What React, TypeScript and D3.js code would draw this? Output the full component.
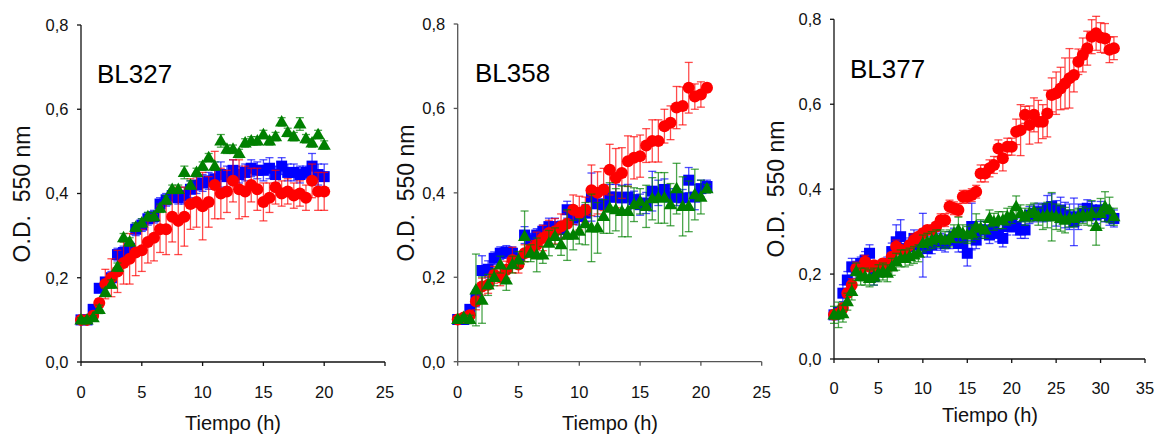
import React from "react";
import * as d3 from "d3";

// ---------- DATA ----------
const panelTitles = ["BL327", "BL358", "BL377"];
const yTickValues = [0, 0.2, 0.4, 0.6, 0.8];
const xTicksShort = [0, 5, 10, 15, 20, 25];
const xTicksLong = [0, 5, 10, 15, 20, 25, 30, 35];

const p1Times = [0,0.5,1,1.5,2,2.5,3,3.5,4,4.5,5,5.5,6,6.5,7,7.5,8,8.5,9,9.5,10,10.5,11,11.5,12,12.5,13,13.5,14,14.5,15,15.5,16,16.5,17,17.5,18,18.5,19,19.5,20];
const p1Blue = [0.10,0.10,0.125,0.175,0.19,0.20,0.255,0.26,0.27,0.315,0.325,0.34,0.345,0.375,0.385,0.395,0.39,0.395,0.41,0.42,0.425,0.43,0.435,0.445,0.44,0.455,0.445,0.45,0.46,0.455,0.455,0.46,0.445,0.465,0.45,0.45,0.445,0.45,0.465,0.445,0.44];
const p1BlueErr = [0.005,0.005,0.01,0.01,0.01,0.015,0.015,0.015,0.015,0.015,0.015,0.015,0.015,0.015,0.015,0.015,0.015,0.02,0.02,0.02,0.02,0.02,0.02,0.03,0.025,0.025,0.02,0.02,0.02,0.02,0.025,0.025,0.02,0.02,0.02,0.02,0.02,0.015,0.03,0.025,0.03];
const p1Red = [0.10,0.10,0.11,0.14,0.185,0.20,0.215,0.235,0.245,0.26,0.265,0.285,0.295,0.315,0.315,0.345,0.335,0.345,0.375,0.38,0.37,0.38,0.42,0.40,0.405,0.43,0.41,0.405,0.42,0.41,0.38,0.39,0.415,0.40,0.405,0.395,0.40,0.39,0.43,0.405,0.405];
const p1RedErr = [0.005,0.005,0.01,0.01,0.035,0.045,0.05,0.05,0.06,0.055,0.05,0.05,0.055,0.055,0.06,0.06,0.08,0.07,0.06,0.06,0.08,0.06,0.08,0.06,0.05,0.05,0.07,0.06,0.04,0.05,0.045,0.035,0.04,0.03,0.03,0.03,0.03,0.03,0.04,0.045,0.045];
const p1Green = [0.10,0.10,0.105,0.125,0.165,0.185,0.225,0.295,0.285,0.32,0.33,0.345,0.345,0.365,0.385,0.41,0.41,0.45,0.42,0.45,0.465,0.485,0.465,0.525,0.505,0.505,0.495,0.52,0.525,0.525,0.54,0.525,0.535,0.57,0.545,0.535,0.565,0.53,0.52,0.54,0.515];
const p1GreenErr = [0.005,0.005,0.005,0.01,0.01,0.01,0.01,0.01,0.01,0.01,0.01,0.01,0.01,0.01,0.01,0.01,0.01,0.015,0.01,0.01,0.01,0.01,0.01,0.015,0.01,0.01,0.01,0.01,0.01,0.01,0.01,0.01,0.01,0.01,0.01,0.01,0.015,0.01,0.01,0.01,0.01];

const p2Times = [0,0.5,1,1.5,2,2.5,3,3.5,4,4.5,5,5.5,6,6.5,7,7.5,8,8.5,9,9.5,10,10.5,11,11.5,12,12.5,13,13.5,14,14.5,15,15.5,16,16.5,17,17.5,18,18.5,19,19.5,20,20.5];
const p2Blue = [0.10,0.10,0.124,0.15,0.216,0.219,0.245,0.257,0.26,0.257,0.24,0.30,0.289,0.30,0.309,0.32,0.32,0.313,0.36,0.34,0.344,0.352,0.39,0.374,0.372,0.39,0.39,0.388,0.39,0.384,0.372,0.376,0.404,0.40,0.408,0.39,0.39,0.388,0.43,0.39,0.41,0.415];
const p2BlueErr = [0.005,0.005,0.01,0.02,0.035,0.02,0.015,0.015,0.015,0.015,0.015,0.02,0.015,0.015,0.015,0.02,0.02,0.02,0.02,0.015,0.02,0.02,0.057,0.03,0.03,0.03,0.03,0.03,0.03,0.02,0.025,0.025,0.047,0.03,0.025,0.02,0.02,0.02,0.03,0.03,0.02,0.015];
const p2Red = [0.10,0.105,0.11,0.143,0.178,0.182,0.206,0.20,0.218,0.241,0.23,0.257,0.267,0.277,0.293,0.305,0.309,0.32,0.327,0.36,0.352,0.36,0.406,0.40,0.408,0.455,0.435,0.447,0.475,0.483,0.487,0.512,0.523,0.523,0.558,0.566,0.602,0.606,0.649,0.628,0.633,0.649];
const p2RedErr = [0.005,0.005,0.01,0.02,0.02,0.02,0.02,0.02,0.02,0.03,0.02,0.02,0.02,0.03,0.03,0.03,0.03,0.03,0.03,0.035,0.04,0.03,0.06,0.05,0.05,0.06,0.07,0.06,0.06,0.05,0.05,0.04,0.05,0.05,0.04,0.04,0.05,0.045,0.06,0.03,0.03,0.01];
const p2Green = [0.10,0.105,0.10,0.17,0.146,0.182,0.20,0.23,0.194,0.23,0.241,0.297,0.257,0.253,0.253,0.281,0.297,0.277,0.30,0.30,0.309,0.327,0.317,0.317,0.344,0.364,0.36,0.356,0.356,0.372,0.38,0.368,0.386,0.388,0.388,0.372,0.41,0.368,0.368,0.396,0.39,0.41];
const p2GreenErr = [0.005,0.005,0.01,0.085,0.055,0.025,0.02,0.02,0.025,0.02,0.02,0.06,0.02,0.04,0.02,0.03,0.02,0.025,0.06,0.035,0.03,0.05,0.08,0.06,0.04,0.06,0.05,0.06,0.06,0.04,0.03,0.05,0.05,0.06,0.06,0.05,0.06,0.07,0.06,0.06,0.04,0.01];

const p3Times = [0,0.5,1,1.5,2,2.5,3,3.5,4,4.5,5,5.5,6,6.5,7,7.5,8,8.5,9,9.5,10,10.5,11,11.5,12,12.5,13,13.5,14,14.5,15,15.5,16,16.5,17,17.5,18,18.5,19,19.5,20,20.5,21,21.5,22,22.5,23,23.5,24,24.5,25,25.5,26,26.5,27,27.5,28,28.5,29,29.5,30,30.5,31,31.5];
const p3Blue = [0.104,0.11,0.155,0.186,0.217,0.21,0.225,0.233,0.249,0.194,0.21,0.217,0.225,0.253,0.276,0.288,0.26,0.265,0.284,0.268,0.268,0.26,0.268,0.28,0.276,0.272,0.28,0.288,0.272,0.272,0.249,0.312,0.28,0.304,0.304,0.292,0.304,0.296,0.284,0.312,0.319,0.312,0.304,0.304,0.339,0.343,0.347,0.343,0.355,0.359,0.343,0.351,0.339,0.335,0.323,0.335,0.343,0.355,0.351,0.339,0.351,0.343,0.335,0.331];
const p3BlueErr = [0.01,0.01,0.02,0.02,0.02,0.02,0.015,0.02,0.02,0.02,0.015,0.015,0.015,0.02,0.04,0.04,0.02,0.02,0.02,0.02,0.075,0.02,0.02,0.02,0.02,0.02,0.02,0.02,0.02,0.02,0.03,0.055,0.02,0.02,0.02,0.02,0.02,0.02,0.02,0.02,0.02,0.02,0.02,0.02,0.02,0.02,0.02,0.02,0.03,0.03,0.03,0.03,0.03,0.03,0.056,0.03,0.02,0.02,0.02,0.02,0.02,0.02,0.02,0.02];
const p3Red = [0.104,0.107,0.12,0.155,0.174,0.213,0.21,0.229,0.217,0.221,0.217,0.225,0.217,0.241,0.265,0.257,0.253,0.268,0.28,0.288,0.296,0.304,0.304,0.312,0.327,0.327,0.359,0.355,0.351,0.382,0.382,0.386,0.394,0.437,0.437,0.449,0.457,0.496,0.473,0.50,0.50,0.535,0.539,0.575,0.551,0.575,0.559,0.559,0.578,0.622,0.626,0.637,0.649,0.661,0.669,0.70,0.716,0.732,0.759,0.767,0.757,0.755,0.728,0.732];
const p3RedErr = [0.01,0.01,0.01,0.01,0.015,0.015,0.01,0.015,0.01,0.01,0.01,0.01,0.01,0.01,0.015,0.01,0.01,0.01,0.015,0.01,0.01,0.01,0.01,0.01,0.015,0.015,0.015,0.015,0.015,0.015,0.015,0.015,0.015,0.02,0.02,0.02,0.02,0.02,0.03,0.02,0.02,0.03,0.06,0.02,0.045,0.04,0.05,0.04,0.055,0.04,0.05,0.05,0.06,0.07,0.04,0.03,0.04,0.04,0.04,0.04,0.035,0.035,0.03,0.027];
const p3Green = [0.104,0.104,0.107,0.135,0.159,0.206,0.194,0.194,0.19,0.194,0.202,0.206,0.202,0.217,0.229,0.237,0.237,0.241,0.245,0.249,0.272,0.276,0.28,0.284,0.284,0.28,0.284,0.296,0.304,0.296,0.292,0.296,0.312,0.308,0.304,0.331,0.323,0.327,0.327,0.335,0.339,0.359,0.343,0.335,0.343,0.347,0.335,0.335,0.339,0.335,0.335,0.331,0.327,0.331,0.331,0.335,0.339,0.335,0.343,0.312,0.343,0.359,0.351,0.335];
const p3GreenErr = [0.02,0.03,0.02,0.02,0.02,0.02,0.02,0.02,0.02,0.02,0.02,0.02,0.02,0.02,0.02,0.02,0.02,0.02,0.02,0.02,0.02,0.02,0.02,0.02,0.02,0.02,0.02,0.02,0.03,0.02,0.02,0.02,0.03,0.02,0.02,0.02,0.02,0.02,0.02,0.02,0.02,0.025,0.02,0.02,0.02,0.02,0.02,0.03,0.03,0.057,0.03,0.03,0.03,0.02,0.02,0.02,0.02,0.02,0.03,0.044,0.035,0.035,0.03,0.02];

// ---------- LAYOUT ----------
const FONT = "'Liberation Sans', Arial, Helvetica, sans-serif";
const BLUE = "#0000ff";
const RED = "#ff0000";
const GREEN = "#008000";

type Series = { t: number[]; v: number[]; e: number[]; color: string; shape: "square" | "circle" | "triangle" };

const panels = [
  {
    title: panelTitles[0], xDomain: [0, 25], xRange: [81, 385], yRange: [362, 25], xTicks: xTicksShort,
    axisColor: "#111", titlePos: [97, 83], yLabelX: 22, yLabelY: 194, xLabelX: 233, xLabelY: 430, tickLabelY: 398,
    series: [
      { t: p1Times, v: p1Blue, e: p1BlueErr, color: BLUE, shape: "square" },
      { t: p1Times, v: p1Red, e: p1RedErr, color: RED, shape: "circle" },
      { t: p1Times, v: p1Green, e: p1GreenErr, color: GREEN, shape: "triangle" },
    ] as Series[],
  },
  {
    title: panelTitles[1], xDomain: [0, 25], xRange: [457.7, 761.7], yRange: [361.7, 24], xTicks: xTicksShort,
    axisColor: "#555", titlePos: [475, 82], yLabelX: 406, yLabelY: 193, xLabelX: 610, xLabelY: 430, tickLabelY: 398,
    series: [
      { t: p2Times, v: p2Blue, e: p2BlueErr, color: BLUE, shape: "square" },
      { t: p2Times, v: p2Red, e: p2RedErr, color: RED, shape: "circle" },
      { t: p2Times, v: p2Green, e: p2GreenErr, color: GREEN, shape: "triangle" },
    ] as Series[],
  },
  {
    title: panelTitles[2], xDomain: [0, 35], xRange: [834, 1145], yRange: [359, 19.3], xTicks: xTicksLong,
    axisColor: "#111", titlePos: [850, 78], yLabelX: 776, yLabelY: 189, xLabelX: 990, xLabelY: 422, tickLabelY: 394,
    series: [
      { t: p3Times, v: p3Blue, e: p3BlueErr, color: BLUE, shape: "square" },
      { t: p3Times, v: p3Red, e: p3RedErr, color: RED, shape: "circle" },
      { t: p3Times, v: p3Green, e: p3GreenErr, color: GREEN, shape: "triangle" },
    ] as Series[],
  },
];

const fmt = (d: number) => d.toFixed(1).replace(".", ",");

function Marker({ shape, x, y, color }: { shape: string; x: number; y: number; color: string }) {
  if (shape === "square") return <rect x={x - 5.5} y={y - 5.5} width={11} height={11} fill={color} />;
  if (shape === "circle") return <circle cx={x} cy={y} r={6} fill={color} />;
  const w = 6.6, h = 11.5;
  return <path d={`M${x},${y - h * 0.6}L${x + w},${y + h * 0.4}L${x - w},${y + h * 0.4}Z`} fill={color} />;
}

function Panel({ p }: { p: (typeof panels)[number] }) {
  const x = d3.scaleLinear().domain(p.xDomain).range(p.xRange);
  const y = d3.scaleLinear().domain([0, 0.8]).range(p.yRange);
  const [x0, x1] = p.xRange;
  return (
    <g>
      {/* axes */}
      <line x1={x0} x2={x0} y1={y(0)} y2={y(0.8)} stroke={p.axisColor} strokeWidth={1.3} />
      <line x1={x0} x2={x1} y1={y(0)} y2={y(0)} stroke={p.axisColor} strokeWidth={1.3} />
      {yTickValues.map((v) => (
        <g key={"y" + v}>
          <line x1={x0 - 4} x2={x0} y1={y(v)} y2={y(v)} stroke={p.axisColor} strokeWidth={1.3} />
          <text x={x0 - 12.5} y={y(v)} dy="0.36em" textAnchor="end" fontSize={16.5} fontFamily={FONT} fill="#111">
            {fmt(v)}
          </text>
        </g>
      ))}
      {p.xTicks.map((t) => (
        <g key={"x" + t}>
          <line x1={x(t)} x2={x(t)} y1={y(0)} y2={y(0) + 4} stroke={p.axisColor} strokeWidth={1.3} />
          <text x={x(t)} y={p.tickLabelY} textAnchor="middle" fontSize={16.5} fontFamily={FONT} fill="#111">
            {t}
          </text>
        </g>
      ))}
      {/* labels */}
      <text x={p.xLabelX} y={p.xLabelY} textAnchor="middle" fontSize={20} fontFamily={FONT} fill="#111">
        Tiempo (h)
      </text>
      <text
        transform={`translate(${p.yLabelX},${p.yLabelY}) rotate(-90)`}
        textAnchor="middle"
        dy="0.36em"
        fontSize={23}
        fontFamily={FONT}
        fill="#111"
        style={{ whiteSpace: "pre" }}
      >
        {"O.D.  550 nm"}
      </text>
      <text x={p.titlePos[0]} y={p.titlePos[1]} fontSize={26} fontFamily={FONT} fill="#000">
        {p.title}
      </text>
      {/* series */}
      {p.series.map((s, si) => (
        <g key={"s" + si}>
          {s.t.map((t, i) => {
            const cx = x(t);
            const lo = y(s.v[i] - s.e[i]);
            const hi = y(s.v[i] + s.e[i]);
            return (
              <g key={"e" + i} stroke={s.color} strokeOpacity={0.7} strokeWidth={1.3}>
                <line x1={cx} x2={cx} y1={lo} y2={hi} />
                <line x1={cx - 4} x2={cx + 4} y1={lo} y2={lo} />
                <line x1={cx - 4} x2={cx + 4} y1={hi} y2={hi} />
              </g>
            );
          })}
          {s.t.map((t, i) => (
            <Marker key={"m" + i} shape={s.shape} x={x(t)} y={y(s.v[i])} color={s.color} />
          ))}
        </g>
      ))}
    </g>
  );
}

export default function App() {
  return (
    <div style={{ position: "absolute", left: 0, top: 0 }}>
      <svg width={1158} height={436} style={{ display: "block", background: "#fff" }}>
        {panels.map((p, i) => (
          <Panel key={i} p={p} />
        ))}
      </svg>
    </div>
  );
}
